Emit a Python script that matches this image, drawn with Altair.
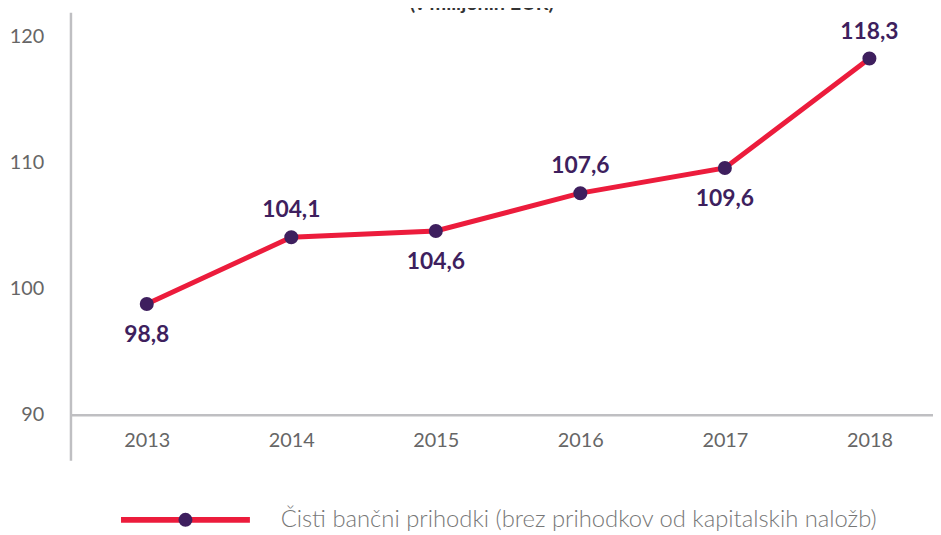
import altair as alt
import pandas as pd

years = [2013, 2014, 2015, 2016, 2017, 2018]
values = [98.8, 104.1, 104.6, 107.6, 109.6, 118.3]
labels = ["98,8", "104,1", "104,6", "107,6", "109,6", "118,3"]
label_pos = ["below", "above", "below", "above", "below", "above"]
y_ticks = [90, 100, 110, 120]
title_text = "(v milijonih EUR)"
legend_text = "Čisti bančni prihodki (brez prihodkov od kapitalskih naložb)"

LINE = "#ec1c3c"
DOT = "#3e1f5e"
GRAY = "#bfbfc2"
FONT = "Lato"

df = pd.DataFrame({"year": years, "value": values, "label": labels, "pos": label_pos})

x = alt.X("year:Q", scale=alt.Scale(domain=[2012.472, 2018.44], nice=False, zero=False),
          axis=alt.Axis(values=years, format="d", title=None, ticks=False, grid=False,
                        offset=-46, domainColor=GRAY, domainWidth=2.5,
                        labelFont=FONT, labelFontSize=20, labelColor="#666666",
                        labelPadding=16))
y = alt.Y("value:Q", scale=alt.Scale(domain=[86.38, 121.97], nice=False, zero=False),
          axis=alt.Axis(values=y_ticks, title=None, ticks=False, grid=False,
                        domainColor=GRAY, domainWidth=2.5,
                        labelFont=FONT, labelFontSize=20, labelColor="#666666",
                        labelPadding=27))

base = alt.Chart(df)

line = base.mark_line(color=LINE, strokeWidth=5).encode(x=x, y=y)
pts = base.mark_circle(color=DOT, opacity=1, size=200).encode(x="year:Q", y="value:Q")
above = base.transform_filter(alt.datum.pos == "above").mark_text(
    font=FONT, fontWeight="bold", fontSize=23, color=DOT, dy=-27, baseline="middle"
).encode(x="year:Q", y="value:Q", text="label:N")
below = base.transform_filter(alt.datum.pos == "below").mark_text(
    font=FONT, fontWeight="bold", fontSize=23, color=DOT, dy=31, baseline="middle"
).encode(x="year:Q", y="value:Q", text="label:N")

tdf = pd.DataFrame({"t": [title_text]})
title = alt.Chart(tdf).mark_text(font=FONT, fontWeight="bold", fontSize=20, color="#333333",
                                 baseline="alphabetic", align="center").encode(
    x=alt.value(415), y=alt.value(-2), text="t:N")

ldf = pd.DataFrame({"t": [legend_text]})
leg_line = alt.Chart(ldf).mark_rule(color=LINE, strokeWidth=6).encode(
    x=alt.value(51), x2=alt.value(181), y=alt.value(512))
leg_dot = alt.Chart(ldf).mark_circle(color=DOT, opacity=1, size=200).encode(
    x=alt.value(116), y=alt.value(512))
leg_text = alt.Chart(ldf).mark_text(font=FONT, fontWeight=300, fontSize=24, color="#777777",
                                    align="left", baseline="middle").encode(
    x=alt.value(212), y=alt.value(512), text="t:N")

chart = alt.layer(line, pts, above, below, title, leg_line, leg_dot, leg_text).properties(
    width=870, height=452,
    autosize=alt.AutoSizeParams(type="none"),
    padding={"left": 63, "top": 2, "right": 0, "bottom": 73},
).configure_view(stroke=None)

chart.save("out.html", embed_options={"renderer": "svg", "actions": False})
